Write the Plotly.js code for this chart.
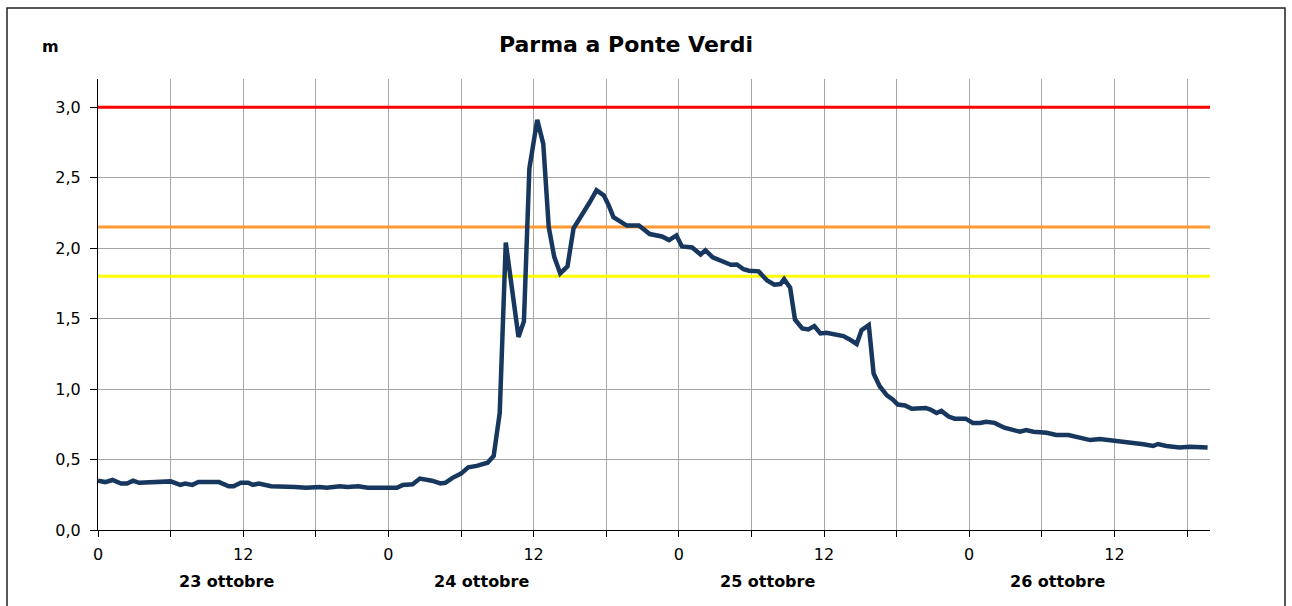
<!DOCTYPE html>
<html>
<head>
<meta charset="utf-8">
<script src="https://cdn.plot.ly/plotly-3.0.1.min.js"></script>
<style>html,body{margin:0;padding:0;background:#fff;}#chart{width:1292px;height:606px;}</style>
</head>
<body>
<div id="chart"></div>
<script>
// Hours since 23 ottobre 00:00
const hours = [0.0,0.6,1.2,1.9,2.4,2.9,3.4,4.6,5.4,6.0,6.8,7.2,7.8,8.3,10.0,10.8,11.2,11.8,12.4,12.8,13.3,14.3,16.3,17.2,18.3,18.9,20.0,20.6,21.5,22.3,24.7,25.2,26.0,26.6,27.6,28.3,28.7,29.3,30.0,30.6,31.3,32.2,32.7,33.0,33.2,33.7,34.75,35.2,35.65,36.3,36.8,37.25,37.7,38.2,38.8,39.3,39.9,40.6,41.2,41.8,42.2,42.6,43.7,44.7,45.6,46.6,47.2,47.8,48.26,49.1,49.8,50.2,50.8,52.3,52.8,53.35,53.8,54.6,55.3,55.9,56.4,56.7,57.2,57.6,58.2,58.7,59.2,59.7,60.2,60.8,61.6,62.2,62.7,63.1,63.7,64.1,64.6,65.2,65.7,66.1,66.7,67.25,68.4,68.8,69.3,69.7,70.3,70.8,71.7,72.3,72.9,73.4,74.1,74.9,75.6,76.2,76.7,77.3,78.4,79.2,80.2,81.0,82.0,82.8,83.6,84.5,85.4,86.4,87.2,87.6,88.3,89.4,90.2,90.8,91.3,91.7];
const level = [0.35,0.34,0.355,0.33,0.33,0.35,0.335,0.34,0.35,0.345,0.32,0.33,0.32,0.34,0.34,0.31,0.31,0.335,0.335,0.32,0.33,0.31,0.305,0.30,0.305,0.30,0.31,0.305,0.31,0.30,0.30,0.32,0.325,0.365,0.35,0.33,0.335,0.37,0.40,0.445,0.455,0.477,0.525,0.71,0.83,2.04,1.37,1.48,2.565,2.91,2.74,2.15,1.94,1.82,1.87,2.14,2.22,2.32,2.41,2.375,2.305,2.22,2.16,2.16,2.10,2.083,2.057,2.09,2.012,2.005,1.955,1.985,1.935,1.882,1.884,1.85,1.84,1.835,1.77,1.74,1.745,1.78,1.72,1.494,1.43,1.423,1.447,1.395,1.40,1.39,1.376,1.348,1.32,1.418,1.454,1.11,1.02,0.955,0.925,0.89,0.883,0.86,0.866,0.855,0.83,0.845,0.805,0.79,0.79,0.76,0.76,0.768,0.76,0.726,0.714,0.697,0.709,0.697,0.69,0.674,0.674,0.657,0.638,0.645,0.638,0.626,0.62,0.608,0.596,0.61,0.596,0.586,0.59,0.586,0.59,0.585];

const thresholdValues = [1.8, 2.15, 3.0];
const thresholdColors = ['#FFFF00', '#FF9933', '#FF0000'];
const xSpan = [0, 91.9];

const tickHours = [0,6,12,18,24,30,36,42,48,54,60,66,72,78,84,90];
const tickLabels = ['0','','12','','0','','12','','0','','12','','0','','12',''];
const dayLabels = ['23 ottobre','24 ottobre','25 ottobre','26 ottobre'];
const dayLabelHours = [10.6, 31.7, 55.3, 79.3];

const traces = [];
thresholdValues.forEach((v, i) => {
  traces.push({x: xSpan, y: [v, v], mode: 'lines', line: {color: thresholdColors[i], width: 3}, hoverinfo: 'skip'});
});
traces.push({x: hours, y: level, mode: 'lines', line: {color: '#17375E', width: 4.5}});

const font = 'DejaVu Sans, Arial, sans-serif';
const annotations = dayLabels.map((t, i) => ({
  text: '<b>' + t + '</b>', x: dayLabelHours[i], xref: 'x', y: -0.114, yref: 'paper',
  showarrow: false, xanchor: 'center', yanchor: 'middle', font: {family: font, size: 16, color: '#000'}
}));
annotations.push({text: '<b>m</b>', x: (50 - 98) / 1112, xref: 'paper', xanchor: 'center', y: (530 - 47) / 451, yref: 'paper', yanchor: 'middle', showarrow: false, font: {family: font, size: 16, color: '#000'}});

const layout = {
  width: 1292, height: 606,
  margin: {l: 98, r: 82, t: 79, b: 76},
  paper_bgcolor: '#fff', plot_bgcolor: '#fff',
  showlegend: false,
  separators: ', ',
  title: {text: '<b>Parma a Ponte Verdi</b>', x: 0.4845, xanchor: 'center', y: 1 - 44/606, yanchor: 'middle', font: {family: font, size: 22, color: '#000'}},
  xaxis: {
    range: [0, 91.9], tickmode: 'array', tickvals: tickHours, ticktext: tickLabels,
    showgrid: true, gridcolor: '#A6A6A6', gridwidth: 1,
    showline: true, linecolor: '#000', linewidth: 1,
    ticks: 'outside', ticklen: 6, tickcolor: '#000', ticklabelstandoff: 4,
    tickfont: {family: font, size: 16, color: '#000'}, zeroline: false, fixedrange: true
  },
  yaxis: {
    range: [0, 3.2], tickmode: 'array', tickvals: [0,0.5,1,1.5,2,2.5,3], tickformat: '.1f',
    showgrid: true, gridcolor: '#A6A6A6', gridwidth: 1,
    showline: true, linecolor: '#000', linewidth: 1,
    ticks: 'outside', ticklen: 7, tickcolor: '#000', ticklabelstandoff: 6,
    tickfont: {family: font, size: 16, color: '#000'}, zeroline: false, fixedrange: true
  },
  annotations: annotations,
  shapes: [{type: 'rect', xref: 'paper', yref: 'paper',
    x0: (7 - 98) / 1112, x1: (1285 - 98) / 1112, y0: (530 - 640) / 451, y1: (530 - 8) / 451,
    line: {color: '#222', width: 1.5}, fillcolor: 'rgba(0,0,0,0)', layer: 'below'}]
};

Plotly.newPlot('chart', traces, layout, {displayModeBar: false, staticPlot: true});
</script>
</body>
</html>
